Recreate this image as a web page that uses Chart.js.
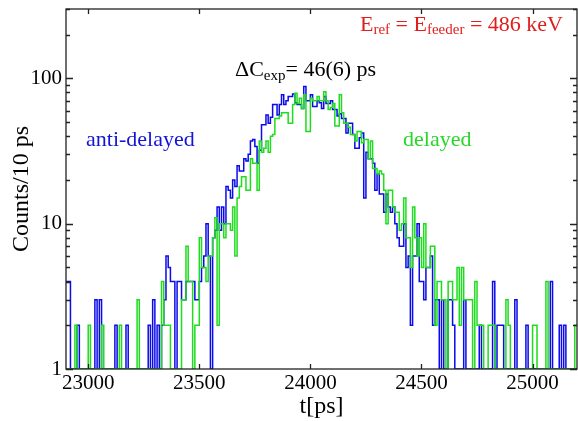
<!DOCTYPE html>
<html>
<head>
<meta charset="utf-8">
<script src="https://cdn.jsdelivr.net/npm/chart.js@4"></script>
<style>
html, body { margin: 0; padding: 0; background: #fff; }
</style>
</head>
<body>
<canvas id="chart" width="578" height="421"></canvas>
<script>
// histogram bins: 10 ps wide, first bin starts at 22900 ps
const binStart = 22900;
const binWidth = 10;

const antiDelayed = [
  4, 4, 0, 0, 0, 2, 0, 0, 0, 0,
  0, 0, 0, 3, 0, 3, 0, 0, 0, 0,
  0, 0, 2, 0, 0, 0, 0, 2, 0, 0,
  0, 0, 0, 0, 0, 0, 0, 2, 0, 3,
  0, 2, 0, 2, 3, 6, 5, 4, 4, 0,
  4, 4, 3, 3, 4, 4, 4, 4, 3, 3,
  4, 5, 6, 10, 6, 0, 8, 9, 13, 9,
  13, 10, 18, 17, 15, 20, 18, 25, 23, 23,
  28, 27, 30, 37, 38, 34, 26, 32, 48, 48,
  56, 49, 54, 66, 66, 56, 66, 77, 66, 70,
  75, 75, 78, 68, 66, 66, 62, 88, 70, 70,
  77, 64, 64, 70, 68, 62, 75, 67, 67, 70,
  61, 61, 55, 57, 53, 53, 42, 49, 49, 41,
  33, 33, 39, 42, 15, 31, 28, 28, 26, 17,
  22, 16, 16, 12, 16, 13, 12, 13, 10, 8,
  7, 7, 10, 5, 6, 2, 6, 6, 10, 4,
  4, 3, 5, 5, 6, 2, 3, 3, 0, 3,
  0, 0, 3, 3, 2, 0, 0, 0, 0, 3,
  0, 0, 0, 0, 0, 0, 2, 0, 0, 0,
  0, 0, 4, 0, 2, 2, 2, 0, 0, 0,
  0, 0, 3, 0, 0, 0, 0, 2, 0, 0,
  0, 0, 0, 0, 0, 0, 0, 0, 4, 0,
  0, 0, 2, 0, 2, 0, 0, 0, 0, 0
];

const delayed = [
  0, 0, 0, 0, 2, 0, 0, 0, 0, 0,
  2, 0, 0, 0, 0, 0, 2, 0, 0, 0,
  0, 0, 0, 0, 2, 0, 0, 0, 0, 0,
  0, 0, 3, 0, 0, 0, 0, 0, 0, 0,
  0, 0, 0, 4, 2, 2, 2, 0, 0, 0,
  0, 0, 3, 3, 7, 4, 4, 0, 2, 2,
  8, 5, 5, 4, 6, 6, 8, 11, 2, 10,
  10, 8, 10, 10, 9, 13, 6, 15, 18, 21,
  21, 17, 17, 28, 26, 26, 17, 37, 31, 33,
  37, 31, 40, 41, 53, 53, 55, 58, 58, 58,
  49, 49, 66, 79, 67, 73, 62, 77, 43, 43,
  73, 70, 70, 75, 70, 70, 81, 70, 61, 63,
  67, 47, 47, 77, 58, 49, 49, 46, 41, 41,
  37, 43, 43, 36, 38, 38, 28, 37, 24, 24,
  22, 23, 22, 17, 10, 17, 17, 13, 12, 12,
  9, 10, 15, 8, 8, 5, 13, 8, 6, 8,
  5, 10, 5, 5, 7, 7, 2, 4, 4, 3,
  3, 0, 4, 4, 3, 3, 5, 2, 5, 3,
  3, 3, 3, 0, 4, 2, 2, 2, 0, 0,
  2, 2, 2, 0, 0, 0, 0, 0, 3, 2,
  0, 0, 0, 0, 0, 0, 0, 0, 0, 0,
  2, 2, 0, 0, 0, 0, 4, 0, 0, 0,
  0, 0, 0, 0, 0, 0, 0, 0, 0, 2
];

const xTickValues = [23000, 23500, 24000, 24500, 25000];
const yTickValues = [1, 10, 100];
const xRange = [22900, 25200];
const yRange = [1, 300];

const serif = '"Liberation Serif", "DejaVu Serif", serif';

// empty bins sit on the bottom of the log axis
function toSteps(counts) {
  const pts = counts.map((c, i) => ({ x: binStart + i * binWidth, y: Math.max(c, yRange[0]) }));
  pts.push({ x: binStart + counts.length * binWidth, y: pts[pts.length - 1].y });
  return pts;
}

const framePlugin = {
  id: 'frame',
  afterDatasetsDraw(chart) {
    const { ctx, chartArea: a, scales: { x, y } } = chart;
    ctx.save();
    ctx.strokeStyle = '#222';
    ctx.lineWidth = 1.3;
    ctx.strokeRect(a.left, a.top, a.right - a.left, a.bottom - a.top);
    ctx.beginPath();
    xTickValues.forEach(v => {
      const px = Math.round(x.getPixelForValue(v)) + 0.5;
      ctx.moveTo(px, a.bottom); ctx.lineTo(px, a.bottom - 5);
      ctx.moveTo(px, a.top); ctx.lineTo(px, a.top + 5);
    });
    for (let dec = 1; dec <= 100; dec *= 10) {
      for (let m = 1; m <= 9; m++) {
        const v = dec * m;
        if (v > yRange[1]) break;
        const py = Math.round(y.getPixelForValue(v)) + 0.5;
        const len = m === 1 ? 7 : 4;
        ctx.moveTo(a.left, py); ctx.lineTo(a.left + len, py);
        ctx.moveTo(a.right, py); ctx.lineTo(a.right - len, py);
      }
    }
    ctx.stroke();
    ctx.restore();
  }
};

function richText(ctx, x, y, parts) {
  parts.forEach(([txt, size, dy]) => {
    ctx.font = size + 'px ' + serif;
    ctx.fillText(txt, x, y + dy);
    x += ctx.measureText(txt).width;
  });
}

const labelPlugin = {
  id: 'labels',
  afterDraw(chart) {
    const ctx = chart.ctx;
    ctx.save();
    ctx.textBaseline = 'alphabetic';
    ctx.textAlign = 'left';
    ctx.fillStyle = 'rgb(225,30,30)';
    richText(ctx, 360, 31, [['E', 22, 0], ['ref', 15, 3], [' = E', 22, 0], ['feeder', 15, 3], [' = 486 keV', 22, 0]]);
    ctx.fillStyle = '#000';
    richText(ctx, 235, 76, [['\u0394C', 22, 0], ['exp', 15, 4], ['= 46(6) ps', 22, 0]]);
    ctx.fillStyle = 'rgb(20,20,215)';
    richText(ctx, 86, 146, [['anti-delayed', 22, 0]]);
    ctx.fillStyle = 'rgb(40,215,40)';
    richText(ctx, 403, 146, [['delayed', 22, 0]]);
    ctx.restore();
  }
};

new Chart(document.getElementById('chart'), {
  type: 'line',
  data: {
    datasets: [
      {
        label: 'delayed',
        data: toSteps(delayed),
        borderColor: 'rgb(30,220,30)',
        borderWidth: 1.5,
        stepped: 'before',
        pointRadius: 0,
        fill: false,
        order: 0
      },
      {
        label: 'anti-delayed',
        data: toSteps(antiDelayed),
        borderColor: 'rgb(10,10,235)',
        borderWidth: 1.5,
        stepped: 'before',
        pointRadius: 0,
        fill: false,
        order: 1
      }
    ]
  },
  options: {
    responsive: false,
    animation: false,
    devicePixelRatio: 1,
    layout: { padding: { left: 0, right: 1, top: 9, bottom: 0 } },
    plugins: { legend: { display: false }, tooltip: { enabled: false } },
    scales: {
      x: {
        type: 'linear',
        min: xRange[0],
        max: xRange[1],
        grid: { display: false, drawTicks: false },
        border: { display: false },
        afterBuildTicks: s => { s.ticks = xTickValues.map(v => ({ value: v })); },
        afterFit: s => { s.height = 52; s.paddingLeft = 0; s.paddingRight = 0; },
        ticks: {
          autoSkip: false,
          maxRotation: 0,
          padding: 2,
          color: '#000',
          font: { family: serif, size: 21 },
          callback: v => String(v)
        },
        title: {
          display: true,
          text: 't[ps]',
          color: '#000',
          font: { family: serif, size: 24 },
          padding: { top: 0, bottom: 0 }
        }
      },
      y: {
        type: 'logarithmic',
        min: yRange[0],
        max: yRange[1],
        grid: { display: false, drawTicks: false },
        border: { display: false },
        afterBuildTicks: s => { s.ticks = yTickValues.map(v => ({ value: v })); },
        afterFit: s => { s.width = 66; s.paddingTop = 0; s.paddingBottom = 0; },
        ticks: {
          padding: 4,
          color: '#000',
          font: { family: serif, size: 21 },
          callback: v => String(v)
        },
        title: {
          display: true,
          text: 'Counts/10 ps',
          color: '#000',
          font: { family: serif, size: 24 },
          padding: { top: 7, bottom: 0 }
        }
      }
    }
  },
  plugins: [framePlugin, labelPlugin]
});
</script>
</body>
</html>
